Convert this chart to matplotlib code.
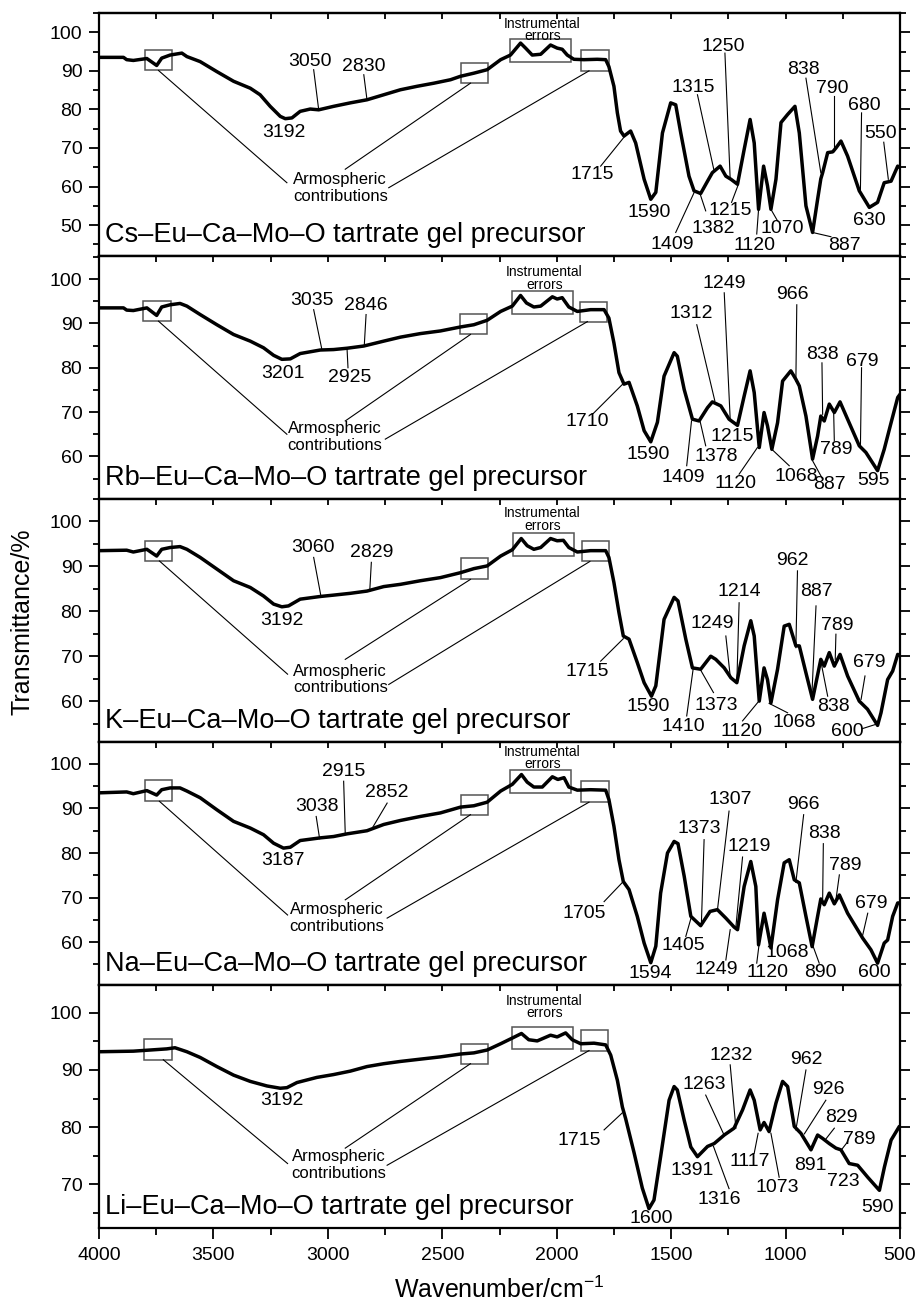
import matplotlib
matplotlib.use('Agg')
import matplotlib.pyplot as plt
from matplotlib.patches import Rectangle
from matplotlib.ticker import MultipleLocator

plt.rcParams['font.family'] = ['Liberation Sans', 'DejaVu Sans']
plt.rcParams['mathtext.fontset'] = 'custom'
plt.rcParams['mathtext.rm'] = 'Liberation Sans'
plt.rcParams['mathtext.default'] = 'regular'

# ---------------- data ----------------
sample_names = ["Cs–Eu–Ca–Mo–O tartrate gel precursor",
                "Rb–Eu–Ca–Mo–O tartrate gel precursor",
                "K–Eu–Ca–Mo–O tartrate gel precursor",
                "Na–Eu–Ca–Mo–O tartrate gel precursor",
                "Li–Eu–Ca–Mo–O tartrate gel precursor"]

wn_cs = [4000, 3893, 3879, 3850, 3791, 3748, 3726, 3689, 3638, 3616, 3558, 3485, 3412, 3339, 3296, 3252, 3208,
         3186, 3157, 3121, 3077, 3040, 2975, 2902, 2829, 2756, 2683, 2610, 2537, 2464, 2420, 2362, 2304, 2245,
         2202, 2158, 2136, 2107, 2070, 2027, 1998, 1976, 1954, 1925, 1881, 1823, 1786, 1772, 1750, 1735, 1721,
         1706, 1677, 1655, 1618, 1589, 1567, 1538, 1502, 1480, 1458, 1422, 1400, 1371, 1341, 1320, 1286, 1261,
         1239, 1210, 1181, 1155, 1137, 1118, 1096, 1079, 1064, 1042, 1020, 991, 959, 940, 911, 882, 860, 846,
         838, 816, 794, 780, 758, 729, 678, 634, 598, 569, 539, 510, 500]
t_cs = [93.5, 93.5, 92.9, 92.7, 93.2, 91.4, 93.3, 94.1, 94.6, 93.7, 92.4, 89.8, 87.3, 85.5, 83.8, 80.8, 78.2,
        77.6, 77.8, 79.5, 80.1, 79.9, 80.8, 81.7, 82.5, 83.8, 85.1, 86.0, 86.8, 87.7, 88.6, 89.4, 90.3, 92.9,
        94.1, 97.2, 95.9, 94.1, 94.3, 96.7, 95.9, 95.6, 94.1, 93.0, 92.9, 93.0, 92.9, 91.1, 86.0, 79.1, 74.4,
        73.1, 74.4, 71.3, 61.9, 56.7, 58.5, 73.9, 81.7, 81.2, 73.9, 62.7, 58.9, 58.2, 61.4, 63.6, 65.3, 62.7,
        61.9, 60.6, 69.6, 77.4, 71.3, 54.1, 65.3, 60.2, 54.1, 61.9, 76.6, 78.7, 80.8, 73.9, 55.0, 48.1, 56.7, 62.0,
        63.6, 68.8, 69.0, 70.0, 71.8, 67.9, 58.9, 54.6, 55.9, 61.0, 61.4, 65.3, 64.9]

wn_rb = [4000, 3893, 3879, 3850, 3791, 3748, 3726, 3689, 3646, 3616, 3558, 3485, 3412, 3339, 3281, 3237, 3201,
         3164, 3121, 3033, 2975, 2916, 2843, 2756, 2683, 2596, 2508, 2420, 2362, 2304, 2245, 2194, 2158, 2132,
         2100, 2070, 2019, 1998, 1976, 1947, 1910, 1852, 1793, 1772, 1750, 1728, 1706, 1684, 1648, 1618, 1589,
         1560, 1531, 1487, 1473, 1443, 1407, 1378, 1341, 1320, 1283, 1247, 1210, 1181, 1155, 1137, 1115, 1094,
         1079, 1060, 1035, 1013, 977, 955, 940, 911, 882, 860, 846, 831, 809, 787, 762, 729, 678, 649, 598, 569,
         539, 510, 500]
t_rb = [93.5, 93.5, 93.0, 92.9, 93.5, 91.8, 93.7, 94.2, 94.5, 93.9, 92.0, 89.7, 87.5, 86.0, 84.5, 82.8, 81.9,
        82.0, 83.2, 84.0, 84.1, 84.4, 84.9, 86.0, 86.9, 87.7, 88.3, 89.2, 89.7, 90.7, 92.7, 93.9, 96.3, 94.6,
        93.7, 93.9, 96.0, 95.5, 95.8, 93.7, 92.7, 93.1, 93.1, 91.2, 85.6, 78.9, 76.3, 76.7, 71.4, 65.8, 63.3,
        67.7, 78.1, 83.4, 82.6, 75.1, 68.4, 68.0, 71.0, 72.3, 71.4, 68.4, 67.0, 73.6, 79.3, 74.4, 62.0, 69.9,
        66.9, 61.6, 67.6, 77.0, 79.3, 77.4, 75.9, 69.1, 59.4, 64.6, 69.1, 68.0, 71.8, 69.9, 72.3, 68.4, 62.4,
        60.9, 56.8, 61.6, 67.6, 73.3, 74.0]

wn_k = [4000, 3879, 3850, 3791, 3748, 3726, 3689, 3646, 3616, 3558, 3485, 3412, 3339, 3281, 3237, 3201, 3172,
        3121, 3033, 2975, 2902, 2829, 2756, 2683, 2596, 2508, 2420, 2362, 2304, 2245, 2194, 2155, 2129, 2100,
        2070, 2027, 1998, 1971, 1947, 1910, 1852, 1786, 1772, 1750, 1728, 1709, 1684, 1648, 1618, 1586, 1567,
        1531, 1487, 1470, 1436, 1407, 1371, 1327, 1305, 1268, 1239, 1213, 1181, 1152, 1137, 1115, 1094, 1079,
        1064, 1035, 1006, 984, 955, 940, 911, 882, 867, 846, 831, 809, 787, 762, 729, 678, 642, 598, 583, 554,
        532, 510, 500]
t_k = [93.5, 93.6, 93.2, 93.8, 92.3, 93.8, 94.2, 94.4, 93.8, 92.0, 89.4, 86.8, 85.3, 83.4, 81.6, 81.0, 81.2,
       82.7, 83.3, 83.6, 84.0, 84.5, 85.5, 86.0, 86.8, 87.5, 88.6, 89.5, 90.1, 92.3, 93.7, 96.2, 94.6, 93.8,
       94.2, 96.2, 95.7, 95.8, 94.2, 93.2, 93.5, 93.5, 92.0, 86.4, 79.7, 74.5, 73.8, 68.6, 64.1, 61.1, 63.4,
       78.2, 83.1, 82.3, 73.8, 67.4, 67.1, 70.0, 69.3, 67.4, 65.2, 64.1, 72.3, 77.9, 74.5, 60.0, 67.4, 64.8,
       59.6, 67.1, 76.7, 77.1, 72.3, 72.3, 66.3, 60.4, 64.1, 69.3, 67.8, 70.8, 67.8, 70.4, 65.6, 60.0, 58.2,
       54.6, 57.4, 64.8, 66.7, 70.4, 70.2]

wn_na = [4000, 3879, 3850, 3791, 3748, 3726, 3689, 3646, 3616, 3558, 3485, 3412, 3339, 3281, 3237, 3194, 3164,
         3121, 3033, 2975, 2916, 2829, 2756, 2683, 2596, 2508, 2420, 2362, 2304, 2245, 2194, 2154, 2129, 2100,
         2063, 2019, 1995, 1968, 1947, 1910, 1852, 1786, 1772, 1750, 1728, 1709, 1684, 1648, 1618, 1589, 1567,
         1546, 1516, 1487, 1470, 1443, 1414, 1371, 1330, 1298, 1261, 1225, 1210, 1181, 1152, 1130, 1118, 1094,
         1079, 1064, 1035, 1006, 984, 962, 940, 911, 884, 860, 846, 831, 809, 787, 765, 729, 663, 627, 598, 569,
         554, 532, 510, 500]
t_na = [93.5, 93.7, 93.3, 94.0, 93.0, 94.2, 94.6, 94.6, 93.9, 92.4, 89.7, 87.1, 85.6, 84.1, 82.2, 81.1, 81.3,
        82.8, 83.4, 83.7, 84.3, 85.0, 86.4, 87.3, 88.2, 89.0, 90.3, 90.6, 91.4, 93.9, 95.4, 97.6, 95.9, 94.8,
        94.8, 97.1, 96.5, 96.9, 94.8, 94.1, 94.2, 94.1, 92.0, 86.0, 78.5, 73.6, 71.8, 65.8, 59.8, 55.4, 59.1,
        71.0, 80.0, 82.6, 82.1, 74.8, 65.8, 63.7, 66.9, 67.3, 65.4, 63.4, 62.8, 72.5, 78.1, 72.5, 59.4, 66.5,
        62.8, 58.7, 69.5, 77.8, 78.5, 74.0, 73.3, 65.8, 59.0, 65.8, 69.7, 68.4, 71.0, 68.6, 70.6, 66.5, 60.9,
        58.3, 55.3, 59.8, 60.5, 65.8, 68.8, 68.8]

wn_li = [4000, 3850, 3777, 3704, 3668, 3616, 3558, 3485, 3412, 3339, 3266, 3208, 3179, 3135, 3048, 2975, 2902,
         2829, 2756, 2683, 2596, 2508, 2420, 2362, 2304, 2245, 2194, 2154, 2122, 2085, 2027, 1998, 1961, 1932,
         1895, 1837, 1786, 1764, 1735, 1713, 1699, 1662, 1626, 1597, 1575, 1546, 1509, 1487, 1473, 1443, 1414,
         1385, 1341, 1312, 1268, 1225, 1188, 1155, 1137, 1111, 1094, 1072, 1042, 1013, 991, 962, 933, 889, 860,
         838, 809, 780, 758, 722, 685, 641, 590, 568, 539, 503, 500]
t_li = [93.2, 93.3, 93.5, 93.7, 93.9, 93.2, 92.2, 90.6, 89.1, 88.0, 87.2, 86.8, 86.9, 87.8, 88.7, 89.2, 89.8,
        90.6, 91.1, 91.5, 91.9, 92.3, 92.8, 93.0, 93.5, 94.6, 95.6, 96.4, 95.3, 95.1, 96.1, 95.8, 96.5, 95.3,
        94.6, 94.7, 94.4, 92.6, 88.2, 83.5, 81.5, 75.5, 69.3, 65.7, 67.2, 74.8, 84.7, 87.1, 86.5, 81.2, 76.5,
        74.8, 76.6, 77.1, 78.6, 79.8, 83.0, 86.5, 84.7, 79.5, 80.8, 79.2, 84.2, 88.0, 87.1, 80.1, 78.9, 76.0,
        78.6, 78.0, 77.1, 76.3, 76.0, 73.6, 73.3, 71.2, 68.9, 73.0, 77.7, 80.1, 80.1]

spectra_wn = [wn_cs, wn_rb, wn_k, wn_na, wn_li]
spectra_t = [t_cs, t_rb, t_k, t_na, t_li]
y_limits = [(42.0, 105.0), (50.4, 105.2), (50.9, 105.0), (50.4, 104.9), (62.3, 104.9)]

# peak labels: (text, x, y) and pointer lines (x0, y0, x1, y1)
peaks_cs = [("3050", 3077, 92.4), ("2830", 2843, 91.1), ("3192", 3193, 74.1), ("1715", 1844, 63.2),
            ("1590", 1597, 53.3), ("1409", 1494, 45.1), ("1382", 1315, 49.1), ("1315", 1404, 85.8),
            ("1250", 1271, 96.3), ("1215", 1242, 53.7), ("1120", 1137, 44.7), ("1070", 1013, 49.1),
            ("887", 741, 44.8), ("838", 921, 90.3), ("790", 795, 85.5), ("680", 656, 81.0),
            ("630", 634, 51.1), ("550", 583, 73.8)]
leads_cs = [(3062, 90.3, 3040, 79.9), (2843, 89.0, 2829, 82.5), (1808, 65.3, 1706, 72.8),
            (1480, 48.1, 1400, 58.4), (1349, 53.7, 1373, 58.0), (1385, 83.8, 1312, 64.0),
            (1265, 94.6, 1242, 61.9), (1236, 55.9, 1206, 60.6), (1126, 47.7, 1118, 54.1),
            (1035, 51.1, 1064, 54.1), (802, 47.0, 882, 48.1), (911, 88.1, 846, 63.6),
            (790, 83.4, 790, 69.2), (668, 79.1, 673, 58.9), (571, 71.5, 551, 61.9)]

peaks_rb = [("3035", 3070, 95.2), ("2846", 2833, 94.0), ("3201", 3196, 78.7), ("2925", 2906, 77.8),
            ("1710", 1866, 67.8), ("1590", 1601, 60.5), ("1409", 1446, 55.3), ("1378", 1305, 60.0),
            ("1312", 1411, 92.2), ("1249", 1268, 98.9), ("1215", 1232, 64.4), ("1120", 1217, 53.8),
            ("1068", 955, 55.5), ("887", 809, 53.6), ("966", 969, 96.5), ("838", 841, 83.0),
            ("789", 780, 61.6), ("679", 663, 81.5), ("595", 615, 54.5)]
leads_rb = [(3062, 93.1, 3026, 84.1), (2833, 92.0, 2841, 84.9), (2912, 80.0, 2916, 84.1),
            (1840, 69.7, 1706, 76.6), (1432, 57.9, 1411, 68.0), (1349, 62.4, 1373, 67.8),
            (1388, 89.7, 1309, 72.5), (1268, 96.9, 1242, 68.4), (1203, 56.0, 1123, 62.0),
            (984, 57.9, 1064, 61.8), (838, 54.9, 886, 59.4), (951, 94.2, 955, 77.0),
            (841, 81.1, 838, 69.5), (787, 63.5, 790, 70.3), (668, 80.0, 673, 62.0)]

peaks_k = [("3060", 3065, 94.1), ("2829", 2807, 93.1), ("3192", 3201, 77.9), ("1715", 1866, 66.5),
           ("1590", 1601, 58.7), ("1410", 1446, 54.4), ("1373", 1305, 59.0), ("1249", 1319, 77.3),
           ("1214", 1203, 84.5), ("1120", 1193, 53.3), ("1068", 962, 55.2), ("962", 969, 91.2),
           ("887", 863, 84.3), ("789", 776, 76.9), ("838", 792, 58.9), ("679", 634, 68.7),
           ("600", 729, 53.2)]
leads_k = [(3062, 92.0, 3030, 83.3), (2810, 90.9, 2817, 84.5), (1808, 68.9, 1709, 73.9),
           (1432, 56.7, 1404, 67.1), (1315, 61.9, 1371, 66.9), (1261, 74.5, 1242, 65.6),
           (1203, 81.9, 1213, 64.1), (1188, 55.6, 1120, 59.8), (991, 57.4, 1072, 59.5),
           (948, 89.0, 955, 71.9), (867, 81.2, 886, 60.4), (780, 74.9, 783, 69.3),
           (816, 61.1, 846, 68.9), (653, 65.6, 670, 60.4), (663, 53.9, 595, 55.0)]

peaks_na = [("2915", 2931, 98.2), ("3038", 3048, 90.5), ("2852", 2744, 93.6), ("3187", 3196, 78.3),
            ("1705", 1878, 66.5), ("1373", 1378, 85.6), ("1307", 1242, 92.1), ("1219", 1159, 81.5),
            ("1405", 1446, 59.2), ("1594", 1592, 53.0), ("1249", 1305, 53.9), ("1120", 1079, 53.2),
            ("1068", 994, 57.6), ("890", 846, 53.2), ("600", 612, 53.2), ("966", 921, 90.9),
            ("838", 831, 84.3), ("789", 741, 77.2), ("679", 627, 68.6)]
leads_na = [(2931, 96.1, 2924, 84.3), (3051, 88.2, 3036, 83.2), (2741, 91.2, 2807, 85.5),
            (1793, 69.1, 1713, 73.4), (1356, 83.0, 1368, 63.9), (1247, 89.4, 1298, 67.1),
            (1188, 79.1, 1217, 63.5), (1436, 61.3, 1411, 65.8), (1261, 56.0, 1242, 62.8),
            (1126, 55.3, 1115, 59.8), (853, 55.3, 882, 59.4), (921, 88.6, 955, 73.4),
            (835, 82.1, 838, 69.5), (765, 75.1, 780, 69.5), (641, 66.5, 663, 61.6)]

peaks_li = [("3192", 3201, 84.7), ("1715", 1903, 77.7), ("1263", 1356, 87.5), ("1232", 1239, 92.5),
            ("1391", 1407, 72.3), ("1316", 1290, 67.3), ("1117", 1155, 73.9), ("1073", 1035, 69.4),
            ("962", 911, 91.8), ("926", 812, 86.6), ("829", 758, 81.7), ("789", 678, 77.8),
            ("891", 892, 73.3), ("723", 746, 70.4), ("590", 598, 65.9), ("1600", 1589, 64.0)]
leads_li = [(1793, 79.5, 1713, 82.5), (1349, 85.6, 1271, 78.8), (1242, 90.9, 1217, 79.8),
            (1247, 69.2, 1315, 76.6), (1137, 75.4, 1120, 78.9), (1028, 71.2, 1064, 78.9),
            (911, 90.0, 955, 79.5), (824, 84.7, 918, 78.8), (787, 79.8, 824, 77.9),
            (729, 77.4, 758, 75.9)]

all_peaks = [peaks_cs, peaks_rb, peaks_k, peaks_na, peaks_li]
all_leads = [leads_cs, leads_rb, leads_k, leads_na, leads_li]

# boxes (x_hi, x_lo, y_lo, y_hi): atmospheric x3 then instrumental
boxes = [
    [(3799, 3682, 90.1, 95.4), (2418, 2301, 86.8, 92.0), (1893, 1772, 90.0, 95.3), (2205, 1936, 92.4, 98.2)],
    [(3806, 3686, 90.5, 95.1), (2423, 2304, 87.5, 92.1), (1898, 1779, 90.4, 94.8), (2194, 1928, 92.2, 97.2)],
    [(3799, 3679, 91.2, 95.7), (2418, 2299, 87.1, 91.8), (1888, 1772, 91.1, 95.7), (2190, 1925, 92.2, 97.4)],
    [(3799, 3682, 91.6, 96.3), (2418, 2299, 88.6, 93.1), (1893, 1772, 91.4, 96.1), (2202, 1936, 93.5, 98.7)],
    [(3802, 3682, 91.8, 95.4), (2418, 2299, 91.1, 94.6), (1893, 1776, 93.4, 97.0), (2194, 1928, 93.6, 97.6)],
]
instr_text_pos = [(2063, 100.6), (2053, 100.1), (2063, 100.4), (2063, 101.3), (2053, 101.1)]
atm_text_pos = [(2946, 59.7), (2968, 64.3), (2946, 64.8), (2960, 65.4), (2953, 73.3)]
atm_leads = [
    [(3179, 61.0, 3740, 90.1), (2924, 64.5, 2377, 86.8), (2734, 59.7, 1859, 90.0)],
    [(3179, 65.0, 3740, 90.5), (2924, 68.0, 2377, 87.5), (2749, 63.9, 1866, 90.4)],
    [(3176, 66.0, 3736, 91.2), (2924, 69.3, 2377, 87.1), (2734, 63.7, 1855, 91.1)],
    [(3176, 66.1, 3736, 91.6), (2924, 69.5, 2377, 88.6), (2741, 65.4, 1859, 91.4)],
    [(3176, 73.6, 3719, 91.8), (2924, 76.3, 2377, 91.1), (2741, 73.3, 1859, 93.4)],
]

# ---------------- figure ----------------
W, H = 917, 1307
fig = plt.figure(figsize=(W / 100, H / 100), dpi=100)
tops = [13, 256, 499, 742, 985]
ph = 243
left_px, width_px = 99, 801

for i in range(5):
    ax = fig.add_axes([left_px / W, 1 - (tops[i] + ph) / H, width_px / W, ph / H])
    ax.plot(spectra_wn[i], spectra_t[i], color='black', lw=2.5, solid_joinstyle='round', zorder=3)
    ax.set_xlim(4000, 500)
    ax.set_ylim(*y_limits[i])
    for s in ax.spines.values():
        s.set_linewidth(1.6)
    ax.yaxis.set_major_locator(MultipleLocator(10))
    ax.yaxis.set_minor_locator(MultipleLocator(5))
    ax.xaxis.set_major_locator(MultipleLocator(500))
    ax.xaxis.set_minor_locator(MultipleLocator(250))
    ax.tick_params(axis='y', which='both', direction='out', left=True, right=True,
                   labelright=False, labelsize=14, width=1.3, pad=5)
    ax.tick_params(axis='y', which='major', length=7)
    ax.tick_params(axis='y', which='minor', length=4)
    sec = ax.secondary_xaxis('top')
    sec.xaxis.set_major_locator(MultipleLocator(250))
    sec.tick_params(axis='x', which='both', direction='in', length=4, width=1.3, labeltop=False)
    sec.spines['top'].set_linewidth(1.6)
    if i < 4:
        ax.tick_params(axis='x', which='both', bottom=False, labelbottom=False)
    else:
        ax.tick_params(axis='x', which='both', direction='out', width=1.3, labelsize=14, pad=6)
        ax.tick_params(axis='x', which='major', length=8)
        ax.tick_params(axis='x', which='minor', length=5)

    # panel label
    ax.text(0.0075, 0.085, sample_names[i], transform=ax.transAxes, ha='left', va='center', fontsize=19.5)

    # peak labels
    for txt, x, y in all_peaks[i]:
        ax.text(x, y, txt, ha='center', va='center', fontsize=14, zorder=4)
    for x0, y0, x1, y1 in all_leads[i]:
        ax.plot([x0, x1], [y0, y1], color='black', lw=0.8, zorder=2)

    # boxes
    for xh, xl, yl, yh in boxes[i]:
        ax.add_patch(Rectangle((xl, yl), xh - xl, yh - yl, fill=False, edgecolor='#555555', lw=1.1, zorder=2))
    tx, ty = instr_text_pos[i]
    ax.text(tx, ty, "Instrumental\nerrors", ha='center', va='center', fontsize=10, linespacing=0.85)
    ax_, ay_ = atm_text_pos[i]
    ax.text(ax_, ay_, "Armospheric\ncontributions", ha='center', va='center', fontsize=12, linespacing=1.15)
    for x0, y0, x1, y1 in atm_leads[i]:
        ax.plot([x0, x1], [y0, y1], color='black', lw=0.8, zorder=2)

fig.text(23 / W, 1 - 622 / H, "Transmittance/%", rotation=90, ha='center', va='center', fontsize=18)
fig.text((left_px + width_px / 2) / W, 1 - 1290 / H, "Wavenumber/cm$^{-1}$", ha='center', va='center', fontsize=18)

fig.savefig('out.png', dpi=100)
